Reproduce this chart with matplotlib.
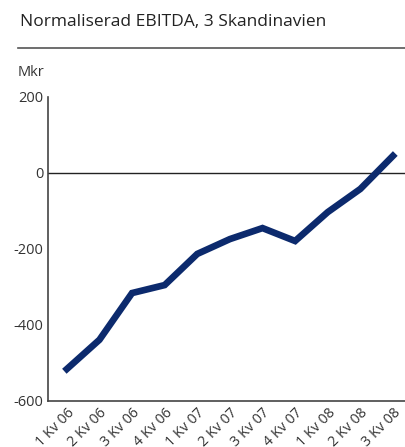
import numpy as np
from matplotlib import pyplot as plt

# data
quarters = ['1 Kv 06', '2 Kv 06', '3 Kv 06', '4 Kv 06',
            '1 Kv 07', '2 Kv 07', '3 Kv 07', '4 Kv 07',
            '1 Kv 08', '2 Kv 08', '3 Kv 08']
ebitda = [-516, -439, -316, -295, -213, -174, -145, -179, -103, -42, 45]
yticks = [-600, -400, -200, 0, 200]

plt.rcParams['font.family'] = ['Open Sans', 'DejaVu Sans']

fig = plt.figure(figsize=(4.06, 4.47), dpi=100)
ax = fig.add_axes([0.118, 0.103, 0.882, 0.68])

x = np.arange(len(quarters))
ax.plot(x, ebitda, color='#0c2a6d', lw=4.8, solid_joinstyle='miter')
ax.axhline(0, color='#222222', lw=1.0, zorder=1)

ax.set_xlim(-0.58, 10.4)
ax.set_ylim(-600, 200)
ax.set_yticks(yticks)
ax.set_yticklabels([str(v) for v in yticks], fontsize=10.5, color='#333333')
ax.set_xticks(x)
ax.set_xticklabels(quarters, rotation=45, ha='right', va='top',
                   rotation_mode='anchor', fontsize=10.3, color='#333333')
ax.tick_params(axis='both', length=0, pad=3)
ax.tick_params(axis='x', pad=3)

for s in ['top', 'right']:
    ax.spines[s].set_visible(False)
for s in ['left', 'bottom']:
    ax.spines[s].set_color('#444444')
    ax.spines[s].set_linewidth(1.2)

# title and rule
fig.text(20 / 406, 1 - 22 / 447, 'Normaliserad EBITDA, 3 Skandinavien',
         fontsize=12.5, color='#222222', va='center', ha='left')
fig.add_artist(plt.Line2D([18 / 406, 1.0], [1 - 48 / 447] * 2,
                          color='#555555', lw=1.2))
fig.text(18 / 406, 1 - 72 / 447, 'Mkr', fontsize=10.5, color='#333333',
         va='center', ha='left')

fig.savefig('out.png', dpi=100)
